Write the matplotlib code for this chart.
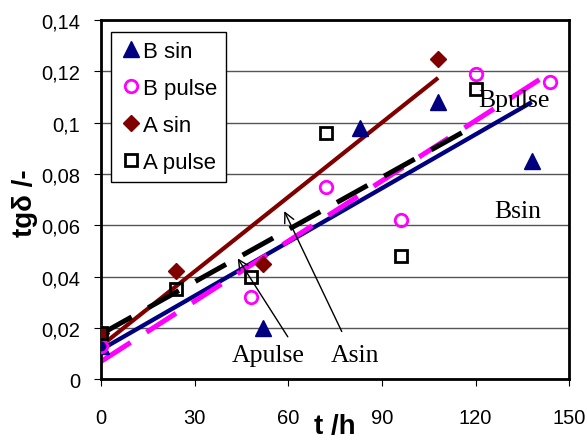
import numpy as np
import matplotlib
matplotlib.use("Agg")
import matplotlib.pyplot as plt

# values
b_sin_t = [0, 52, 83, 108, 138]
b_sin_v = [0.013, 0.020, 0.098, 0.108, 0.085]

b_pulse_t = [0, 48, 72, 96, 120, 144]
b_pulse_v = [0.013, 0.032, 0.075, 0.062, 0.119, 0.116]

a_sin_t = [0, 24, 52, 108]
a_sin_v = [0.018, 0.042, 0.045, 0.125]

a_pulse_t = [0, 24, 48, 72, 96, 120]
a_pulse_v = [0.018, 0.035, 0.040, 0.096, 0.048, 0.113]

x_ticks = [0, 30, 60, 90, 120, 150]
y_ticks = [0, 0.02, 0.04, 0.06, 0.08, 0.1, 0.12, 0.14]
y_tick_labels = ["0", "0,02", "0,04", "0,06", "0,08", "0,1", "0,12", "0,14"]

plt.rcParams["font.family"] = ["Liberation Sans", "DejaVu Sans"]

fig = plt.figure(figsize=(5.88, 4.39), dpi=100)
ax = fig.add_axes([0.172, 0.134, 0.796, 0.818])


def trend(ax, t, v, **kw):
    k, b = np.polyfit(t, v, 1)
    xs = np.array([0, max(t)])
    ax.plot(xs, k * xs + b, solid_capstyle="butt", dash_capstyle="butt", **kw)


# trend lines
trend(ax, b_sin_t, b_sin_v, color="#000080", lw=3.1, zorder=2)
trend(ax, b_pulse_t, b_pulse_v, color="#ff00ff", lw=3.6, dashes=(7, 3.8), zorder=2)
trend(ax, a_sin_t, a_sin_v, color="#800000", lw=3.0, zorder=2)
trend(ax, a_pulse_t, a_pulse_v, color="black", lw=3.6, dashes=(7, 3.8), zorder=2)

# measured points
ax.plot(b_sin_t, b_sin_v, ls="none", marker="^", ms=11, color="#000080",
        label="B sin", zorder=3)
ax.plot(b_pulse_t, b_pulse_v, ls="none", marker="o", ms=9, mfc="none",
        mec="#ff00ff", mew=2, label="B pulse", zorder=3)
ax.plot(a_sin_t, a_sin_v, ls="none", marker="D", ms=8, color="#800000",
        label="A sin", zorder=3)
ax.plot(a_pulse_t, a_pulse_v, ls="none", marker="s", ms=9, mfc="none",
        mec="black", mew=2, label="A pulse", zorder=3)

ax.set_xlim(0, 150)
ax.set_ylim(0, 0.14)
ax.set_xticks(x_ticks)
ax.set_yticks(y_ticks)
ax.set_yticklabels(y_tick_labels)
ax.tick_params(axis="x", labelsize=14.5, direction="out", length=5, pad=16)
ax.tick_params(axis="y", labelsize=14.5, direction="out", length=5, pad=10)
ax.yaxis.grid(True, color="#555555", lw=1)
ax.set_axisbelow(True)
for s in ax.spines.values():
    s.set_linewidth(2)

leg = ax.legend(loc="upper left", bbox_to_anchor=(0.021, 0.967),
                borderaxespad=0, fontsize=16, handletextpad=0.05,
                handlelength=1.0, labelspacing=0.72, borderpad=0.4,
                fancybox=False, framealpha=1)
leg.get_frame().set_edgecolor("black")
leg.get_frame().set_linewidth(1)

# series labels
serif = ["Liberation Serif", "DejaVu Serif"]
ax.text(132.4, 0.1087, "Bpulse", family=serif, fontsize=18.5, ha="center", va="center")
ax.text(133.5, 0.0657, "Bsin", family=serif, fontsize=18.5, ha="center", va="center")
ax.text(53.5, 0.0095, "Apulse", family=serif, fontsize=18.5, ha="center", va="center")
ax.text(81.4, 0.0095, "Asin", family=serif, fontsize=18.5, ha="center", va="center")
ax.annotate("", xy=(43.3, 0.048), xytext=(60.3, 0.0156),
            arrowprops=dict(arrowstyle="->", color="black", lw=1, mutation_scale=18))
ax.annotate("", xy=(58.3, 0.0665), xytext=(77.5, 0.0176),
            arrowprops=dict(arrowstyle="->", color="black", lw=1, mutation_scale=18))

fig.text(0.57, 0.027, "t /h", fontsize=20, fontweight="bold", ha="center", va="center")
fig.text(0.042, 0.537, "tg\u03b4 /-", fontsize=20, fontweight="bold", rotation=90,
         ha="center", va="center")

fig.savefig("out.png", dpi=100)
